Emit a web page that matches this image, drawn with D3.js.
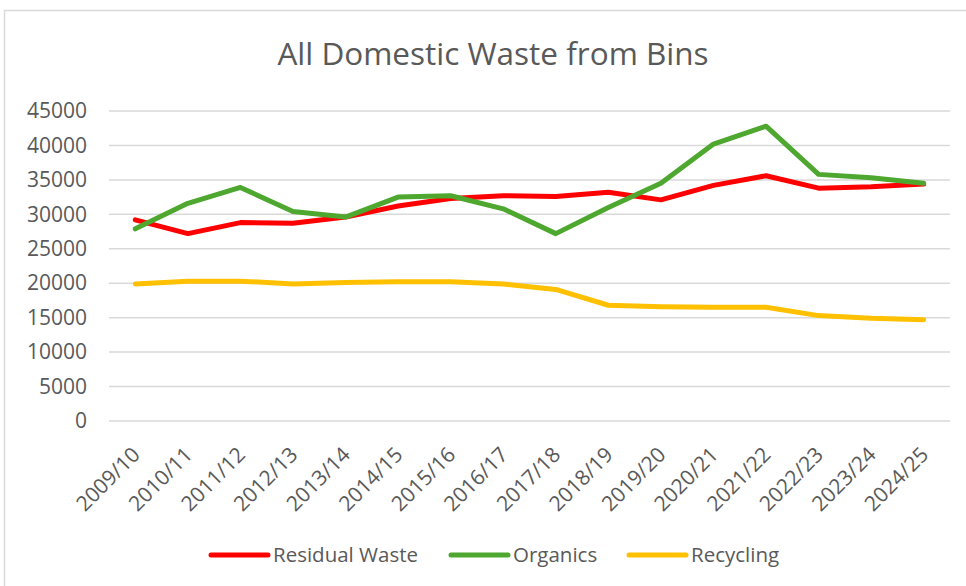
<!DOCTYPE html>
<html>
<head>
<meta charset="utf-8">
<script src="https://cdn.jsdelivr.net/npm/d3@7"></script>
<style>
  body { margin: 0; background: #fff; }
  svg text { font-family: "Open Sans", sans-serif; fill: #595959; }
</style>
</head>
<body>
<div id="chart"></div>
<script>
// data
var years = ['2009/10', '2010/11', '2011/12', '2012/13', '2013/14', '2014/15', '2015/16', '2016/17',
  '2017/18', '2018/19', '2019/20', '2020/21', '2021/22', '2022/23', '2023/24', '2024/25'];

var residual = [29200, 27200, 28800, 28700, 29600, 31200, 32300, 32700,
  32600, 33200, 32100, 34200, 35600, 33800, 34000, 34400];

var organics = [27900, 31600, 33900, 30400, 29600, 32500, 32700, 30800,
  27200, 31000, 34500, 40200, 42800, 35800, 35300, 34500];

var recycling = [19900, 20300, 20300, 19900, 20100, 20200, 20200, 19900,
  19100, 16800, 16600, 16500, 16500, 15300, 14900, 14700];

var yTicks = [0, 5000, 10000, 15000, 20000, 25000, 30000, 35000, 40000, 45000];

var series = [
  { name: 'Residual Waste', values: residual, color: '#ff0000' },
  { name: 'Organics', values: organics, color: '#4ea72e' },
  { name: 'Recycling', values: recycling, color: '#ffc000' }
];

var width = 966, height = 586;

var svg = d3.select('#chart')
  .append('svg')
  .attr('width', width)
  .attr('height', height);

// chart frame
svg.append('rect')
  .attr('x', 4.5)
  .attr('y', 10.5)
  .attr('width', width + 10)
  .attr('height', height + 10)
  .attr('fill', '#fff')
  .attr('stroke', '#d9d9d9')
  .attr('stroke-width', 1.5);

svg.append('text')
  .attr('x', 493)
  .attr('y', 65)
  .attr('text-anchor', 'middle')
  .style('font-size', '31.5px')
  .text('All Domestic Waste from Bins');

var x = d3.scaleBand()
  .domain(years)
  .range([109, 950]);

var y = d3.scaleLinear()
  .domain([0, 45000])
  .range([421, 111]);

// gridlines
svg.append('g')
  .selectAll('line')
  .data(yTicks)
  .enter()
  .append('line')
  .attr('x1', 109)
  .attr('x2', 950)
  .attr('y1', function(d){ return y(d); })
  .attr('y2', function(d){ return y(d); })
  .attr('stroke', '#d9d9d9')
  .attr('stroke-width', 1.5);

// y axis
var yAxis = svg.append('g')
  .attr('transform', 'translate(87,0)')
  .call(d3.axisLeft(y).tickValues(yTicks).tickSize(0).tickPadding(0).tickFormat(d3.format('d')));

yAxis.select('.domain').remove();
yAxis.selectAll('text')
  .style('font-size', '21px')
  .style('font-family', '"Open Sans", sans-serif')
  .attr('fill', '#595959');

// x labels, rotated
svg.append('g')
  .selectAll('text')
  .data(years)
  .enter()
  .append('text')
  .attr('text-anchor', 'end')
  .attr('transform', function(d){
    return 'translate(' + (x(d) + x.bandwidth() / 2 + 6) + ',456) rotate(-45)';
  })
  .style('font-size', '21px')
  .text(function(d){ return d; });

var line = d3.line()
  .x(function(d, i){ return x(years[i]) + x.bandwidth() / 2; })
  .y(function(d){ return y(d); });

// draw recycling first so red/green sit on top, green over red
[series[2], series[0], series[1]].forEach(function(s){
  svg.append('path')
    .attr('d', line(s.values))
    .attr('fill', 'none')
    .attr('stroke', s.color)
    .attr('stroke-width', 5)
    .attr('stroke-linejoin', 'round')
    .attr('stroke-linecap', 'round');
});

// legend
var legendX = [211, 451, 629];
var legend = svg.append('g')
  .selectAll('g')
  .data(series)
  .enter()
  .append('g')
  .attr('transform', function(d, i){ return 'translate(' + legendX[i] + ',555)'; });

legend.append('line')
  .attr('x1', 0)
  .attr('x2', 57)
  .attr('stroke', function(d){ return d.color; })
  .attr('stroke-width', 5)
  .attr('stroke-linecap', 'round');

legend.append('text')
  .attr('x', 62)
  .attr('y', 7)
  .style('font-size', '20.5px')
  .text(function(d){ return d.name; });
</script>
</body>
</html>
